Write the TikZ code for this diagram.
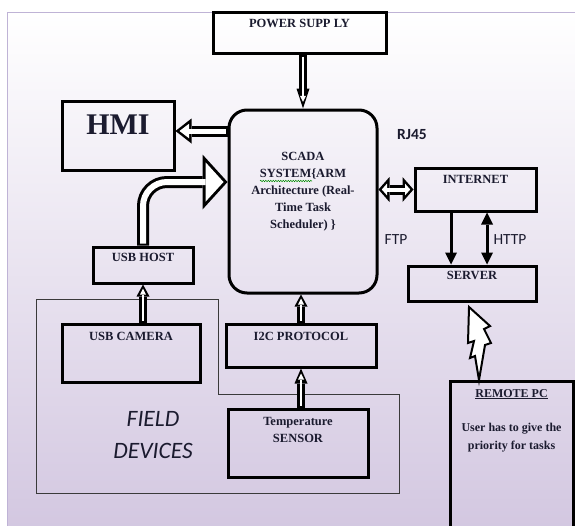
\documentclass[tikz,border=0pt]{standalone}
\usepackage{fontspec}
\setmainfont{Liberation Serif}
\newfontfamily\calibri{Carlito}
\usetikzlibrary{arrows.meta,positioning,decorations.pathmorphing}
\definecolor{FrameLav}{HTML}{BFB3D6}
\definecolor{BackLav}{HTML}{D2C6E0}
\definecolor{InkNavy}{HTML}{1B1B2F}
\definecolor{FieldGray}{HTML}{3A3A3A}

\begin{document}
\begin{tikzpicture}[
    x=1pt, y=-1pt,
    blk/.style={draw, line width=3pt, inner sep=0pt},
    txt/.style={inner sep=0pt, align=center, text=InkNavy, font=\fontsize{12.5}{17}\selectfont\bfseries},
    sans/.style={inner sep=0pt, text=InkNavy, font=\calibri\fontsize{15.5}{18}\selectfont},
    dblarrow/.style={line width=7.5pt, -{Triangle[length=#1,width=13pt,line width=0pt]},
        postaction={draw=white, line width=2.5pt, shorten <=2pt, shorten >=#1/3,
            -{Triangle[length=6pt,width=6pt,line width=0pt]}}},
    dblarrow/.default=12pt,
    hmiarrow/.style={line width=11pt, -{Triangle[length=16pt,width=25pt,line width=0pt]},
        postaction={draw=white, line width=5pt, shorten <=2pt, shorten >=4pt,
            -{Triangle[length=9.5pt,width=14.5pt,line width=0pt]}}},
    usbarrow/.style={line width=12pt, -{Triangle[length=25pt,width=55pt,line width=0pt]},
        postaction={draw=white, line width=6pt, shorten <=2pt, shorten >=4pt,
            -{Triangle[length=18pt,width=39.5pt,line width=0pt]}}},
    netarrow/.style={line width=10pt, {Triangle[length=11pt,width=25pt,line width=0pt]}-{Triangle[length=11pt,width=25pt,line width=0pt]},
        postaction={draw=white, line width=4pt, shorten <=3.3pt, shorten >=3.3pt,
            {Triangle[length=5.2pt,width=11.8pt,line width=0pt]}-{Triangle[length=5.2pt,width=11.8pt,line width=0pt]}}},
    netline/.style={line width=3pt},
    fieldline/.style={draw=FieldGray, line width=0.8pt},
    bolt/.style={draw, line width=2pt, fill=white, line join=miter},
    squig/.style={draw=green!55!black, line width=0.5pt, decorate, decoration={snake, amplitude=0.7pt, segment length=2.5pt}}
]
\useasboundingbox (0,0) rectangle (575,525);
\clip (0,0) rectangle (575,525);
% page background
\draw[FrameLav, line width=1pt, top color=white, bottom color=BackLav] (7,12) rectangle (590,540);
% field devices outline
\draw[fieldline] (36,299) -- (218,299) -- (218,394) -- (399,394) -- (399,493) -- (36,493) -- cycle;

% blocks
\node[blk, minimum width=173pt, minimum height=41pt] (power) at (299.5,32.5) {};
\node[blk, minimum width=112pt, minimum height=69pt] (hmi) at (118,135.5) {};
\node[blk, rounded corners=18pt, minimum width=148pt, minimum height=183pt] (scada) at (303,201.5) {};
\node[blk, minimum width=121pt, minimum height=43pt] (internet) at (475.5,189.5) {};
\node[blk, minimum width=128pt, minimum height=35pt] (server) at (472,283.5) {};
\node[blk, minimum width=100pt, minimum height=36pt] (usbhost) at (143,265) {};
\node[blk, minimum width=138pt, minimum height=58pt] (usbcam) at (131,353) {};
\node[blk, minimum width=150pt, minimum height=43pt] (i2c) at (301,345.5) {};
\node[blk, minimum width=140pt, minimum height=68pt] (sensor) at (298,443) {};
\node[blk, minimum width=123pt, minimum height=170pt, anchor=north] (remotepc) at (511.5,380) {};

% block texts
\node[txt, below=9pt of power.north] (powertxt) {POWER SUPP LY};
\node[txt, font=\fontsize{30}{30}\selectfont\bfseries, below=15.5pt of hmi.north] (hmitxt) {HMI};
\node[txt, below=44pt of scada.north] (scadatxt) {SCADA\\SYSTEM\{ARM\\Architecture (Real-\\Time Task\\Scheduler) \}};
\node[txt, below=9pt of internet.north] (internettxt) {INTERNET};
\node[txt, below=7pt of server.north] (servertxt) {SERVER};
\node[txt, below=8pt of usbhost.north] (usbhosttxt) {USB HOST};
\node[txt, below=10pt of usbcam.north] (usbcamtxt) {USB CAMERA};
\node[txt, below=10pt of i2c.north] (i2ctxt) {I2C PROTOCOL};
\node[txt, below=10pt of sensor.north] (sensortxt) {Temperature\\SENSOR};
\node[txt, font=\fontsize{12}{18}\selectfont\bfseries, below=9pt of remotepc.north] (remotetxt) {\underline{REMOTE PC}\\[16pt]User has to give the\\priority for tasks};
\draw[squig] (260,181) -- (312,181);

% link labels
\node[sans, font=\calibri\bfseries\fontsize{15.5}{18}\selectfont] (rj45) at (412,135) {RJ45};
\node[sans] (ftp) at (396,240) {FTP};
\node[sans] (http) at (510,240) {HTTP};
\node[sans, align=center, font=\calibri\itshape\fontsize{23.5}{32}\selectfont] (field) at (153,435) {FIELD\\DEVICES};

% connectors
\draw[dblarrow=20pt] (power.south -| scada.north) -- (scada.north);
\draw[dblarrow] (i2c.north) -- (i2c.north |- scada.south);
\draw[dblarrow=15pt] (sensor.north -| i2c.south) -- (i2c.south);
\draw[dblarrow] (usbcam.north -| usbhost.south) -- (usbhost.south);
\coordinate (hmiin) at ([yshift=4.5pt]hmi.east);
\draw[hmiarrow] (scada.west |- hmiin) -- (hmiin);
\coordinate (usbin) at ([yshift=19.5pt]scada.west);
\draw[usbarrow, rounded corners=24pt] (usbhost.north) |- (usbin);
\draw[netarrow] (scada.east |- internet.west) -- (internet.west);
\coordinate (ftpa) at ([xshift=-24.5pt]internet.south);
\coordinate (httpa) at ([xshift=11.5pt]internet.south);
\draw[netline, -{Triangle[length=12pt,width=12pt,line width=0pt]}] (ftpa) -- (ftpa |- server.north);
\draw[netline, {Triangle[length=12pt,width=12pt,line width=0pt]}-{Triangle[length=12pt,width=12pt,line width=0pt]}] (httpa) -- (httpa |- server.north);
% wireless link
\draw[bolt] (469,307) -- (490,326) -- (484,329) -- (491,343) -- (485,345) -- (479,380) -- (475,356) -- (470,358) -- (474,341) -- (468,343) -- cycle;
\end{tikzpicture}
\end{document}
